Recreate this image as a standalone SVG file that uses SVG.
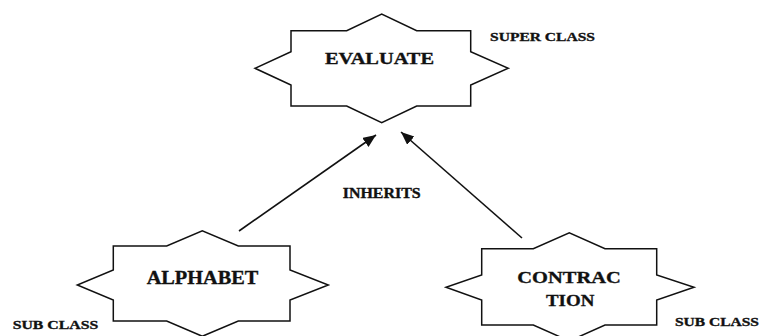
<svg xmlns="http://www.w3.org/2000/svg" width="761" height="336" viewBox="0 0 761 336">
  <style>
    .star { fill: #ffffff; stroke: #111111; stroke-width: 1.5; stroke-linejoin: miter; }
    .edge { fill: none; stroke: #111111; stroke-width: 1.6; }
    .lbl { font-family: "Liberation Serif", "Times New Roman", serif; font-weight: bold; fill: #111111; stroke: #111111; stroke-width: 0.35; }
  </style>
  <defs>
    <marker id="arrow" markerUnits="userSpaceOnUse" markerWidth="14" markerHeight="12" refX="13" refY="5.5" orient="auto">
      <path d="M0,0 L13,5.5 L0,11 Z" fill="#111111"/>
    </marker>
  </defs>
  <rect width="761" height="336" fill="#ffffff"/>

  <!-- inheritance connectors -->
  <g id="connectors">
    <line class="edge" x1="239" y1="231" x2="376" y2="135" marker-end="url(#arrow)"/>
    <line class="edge" x1="522" y1="238" x2="401" y2="132" marker-end="url(#arrow)"/>
  </g>

  <g id="evaluate">
    <path class="star" d="M291,30.7 H346.7 L381.7,14 L416.7,30.7 H470.7 V51.7 L508.3,68.3 L470.7,85 V106 H416.7 L381.7,122.7 L346.7,106 H291 V85 L255,68.3 L291,51.7 Z"/>
    <text class="lbl" x="325" y="63.5" font-size="16.5" textLength="109" lengthAdjust="spacingAndGlyphs">EVALUATE</text>
  </g>

  <g id="alphabet">
    <path class="star" d="M113.3,246 H166.7 L202.3,230.7 L238.3,246 H290 V270 L328.3,285 L290,300 V321 H238.3 L202.3,336.3 L166.7,321 H113.3 V300 L77.3,285 L113.3,270 Z"/>
    <text class="lbl" x="146.7" y="284" font-size="18.5" textLength="111.6" lengthAdjust="spacingAndGlyphs">ALPHABET</text>
  </g>

  <g id="contraction">
    <path class="star" d="M481.7,248.7 H533.3 L569.3,232.7 L605,248.7 H656.7 V275 L694,287.3 L656.7,300 V325 H605 L569.3,341 L533.3,325 H481.7 V300 L446,287.3 L481.7,275 Z"/>
    <text class="lbl" x="517.3" y="282.8" font-size="17.5" textLength="103.4" lengthAdjust="spacingAndGlyphs">CONTRAC</text>
    <text class="lbl" x="546" y="306.3" font-size="17.5" textLength="48.3" lengthAdjust="spacingAndGlyphs">TION</text>
  </g>

  <g id="labels">
    <text class="lbl" x="490" y="40.7" font-size="13" textLength="105" lengthAdjust="spacingAndGlyphs">SUPER CLASS</text>
    <text class="lbl" x="342.7" y="198" font-size="14.5" textLength="78" lengthAdjust="spacingAndGlyphs">INHERITS</text>
    <text class="lbl" x="12.7" y="328.5" font-size="12.5" textLength="85.6" lengthAdjust="spacingAndGlyphs">SUB CLASS</text>
    <text class="lbl" x="675" y="325.8" font-size="12.5" textLength="84" lengthAdjust="spacingAndGlyphs">SUB CLASS</text>
  </g>
</svg>
